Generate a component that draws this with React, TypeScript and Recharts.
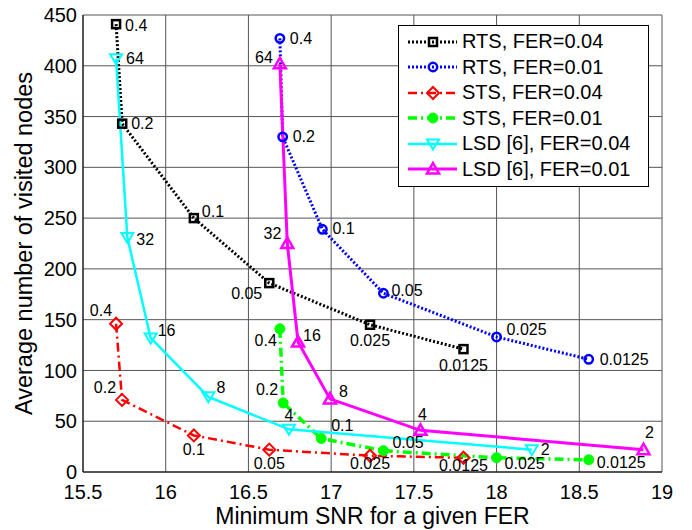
import { LineChart, Line, XAxis, YAxis, CartesianGrid, Legend, LabelList } from "recharts";

const FONT = '"Liberation Sans", Arial, Helvetica, sans-serif';

const xTicks = [15.5, 16, 16.5, 17, 17.5, 18, 18.5, 19];
const yTicks = [0, 50, 100, 150, 200, 250, 300, 350, 400, 450];

// point tags
const ferTags = ["0.4", "0.2", "0.1", "0.05", "0.025", "0.0125"];
const listTags = ["64", "32", "16", "8", "4", "2"];

// RTS
const rts04Snr = [15.7, 15.737, 16.17, 16.626, 17.235, 17.8];
const rts04Nodes = [441, 343, 250, 186, 145, 121];
const rts01Snr = [16.69, 16.707, 16.947, 17.316, 18.0, 18.557];
const rts01Nodes = [427, 330, 239, 176, 133, 111];

// STS
const sts04Snr = [15.7, 15.736, 16.17, 16.626, 17.235, 17.8];
const sts04Nodes = [146, 71, 36, 22, 16, 14];
const sts01Snr = [16.69, 16.71, 16.94, 17.316, 18.0, 18.557];
const sts01Nodes = [141, 68, 33, 21, 14, 12];

// LSD [6]
const lsd04Snr = [15.7, 15.768, 15.909, 16.258, 16.745, 18.213];
const lsd04Nodes = [407, 231, 132, 74, 42, 22];
const lsd01Snr = [16.69, 16.735, 16.8, 16.993, 17.54, 18.888];
const lsd01Nodes = [402, 225, 128, 72, 41, 22];

const zip = (snr: number[], nodes: number[], tags: string[]) =>
  snr.map((s, i) => ({ snr: s, nodes: nodes[i], tag: tags[i] }));

type Anchor = "start" | "middle" | "end";
type Off = [Anchor, number, number];

// where each tag sits relative to its point
const rts04Off: Off[] = [["start", 9, 1], ["start", 9, 0], ["start", 8, -7], ["end", -7, 10], ["middle", 0, 16], ["middle", 0, 16]];
const rts01Off: Off[] = [["start", 10, 0], ["start", 10, 0], ["start", 10, -1], ["start", 8, -3], ["start", 10, -7], ["start", 11, 0]];
const sts04Off: Off[] = [["end", -4, -13], ["end", -6, -12], ["middle", 0, 14], ["middle", 0, 14], ["middle", 0, 8], ["middle", 0, 8]];
const sts01Off: Off[] = [["end", -3, 12], ["end", -5, -13], ["start", 10, -13], ["start", 9, -8], ["start", 8, 6], ["start", 8, 3]];
const lsd04Off: Off[] = [["start", 10, 0], ["start", 9, 2], ["start", 7, -7], ["start", 8, -9], ["middle", 0, -14], ["start", 9, 0]];
const lsd01Off: Off[] = [["end", -7, -6], ["end", -6, -10], ["start", 5, -7], ["start", 9, -7], ["middle", 2, -16], ["middle", 6, -17]];

type Kind = "square" | "circle" | "diamond" | "dot" | "down" | "up";

const series = [
  { id: "rts04", name: "RTS, FER=0.04", data: zip(rts04Snr, rts04Nodes, ferTags), color: "#000000", width: 3, dash: "2 2", kind: "square" as Kind, off: rts04Off },
  { id: "rts01", name: "RTS, FER=0.01", data: zip(rts01Snr, rts01Nodes, ferTags), color: "#0000ff", width: 3, dash: "2 2", kind: "circle" as Kind, off: rts01Off },
  { id: "sts04", name: "STS, FER=0.04", data: zip(sts04Snr, sts04Nodes, ferTags), color: "#ff0000", width: 2.5, dash: "9 4 2 4", kind: "diamond" as Kind, off: sts04Off },
  { id: "sts01", name: "STS, FER=0.01", data: zip(sts01Snr, sts01Nodes, ferTags), color: "#00ff00", width: 3.5, dash: "9 4 2 4", kind: "dot" as Kind, off: sts01Off },
  { id: "lsd04", name: "LSD [6], FER=0.04", data: zip(lsd04Snr, lsd04Nodes, listTags), color: "#00ffff", width: 2.5, dash: undefined, kind: "down" as Kind, off: lsd04Off },
  { id: "lsd01", name: "LSD [6], FER=0.01", data: zip(lsd01Snr, lsd01Nodes, listTags), color: "#ff00ff", width: 3, dash: undefined, kind: "up" as Kind, off: lsd01Off },
];

function Marker({ kind, cx, cy, color }: { kind: Kind; cx: number; cy: number; color: string }) {
  if (cx == null || cy == null) return null;
  switch (kind) {
    case "square":
      return <rect x={cx - 4} y={cy - 4} width={8} height={8} fill="none" stroke={color} strokeWidth={2.5} />;
    case "circle":
      return <circle cx={cx} cy={cy} r={4.2} fill="none" stroke={color} strokeWidth={2.5} />;
    case "diamond":
      return <polygon points={`${cx},${cy - 6} ${cx + 6},${cy} ${cx},${cy + 6} ${cx - 6},${cy}`} fill="none" stroke={color} strokeWidth={2} />;
    case "dot":
      return <circle cx={cx} cy={cy} r={5} fill={color} stroke={color} strokeWidth={1} />;
    case "down":
      return <polygon points={`${cx - 6},${cy - 4.5} ${cx + 6},${cy - 4.5} ${cx},${cy + 5.5}`} fill="none" stroke={color} strokeWidth={2} />;
    case "up":
      return <polygon points={`${cx},${cy - 6} ${cx + 6},${cy + 4.5} ${cx - 6},${cy + 4.5}`} fill="none" stroke={color} strokeWidth={2.5} />;
  }
  return null;
}

const tagContent = (off: Off[]) => (props: any) => {
  const x = props.x ?? props.viewBox?.x;
  const y = props.y ?? props.viewBox?.y;
  const o = off[props.index] || ["start", 8, 0];
  return (
    <text x={x + o[1]} y={y + o[2]} textAnchor={o[0]} dominantBaseline="central" fontSize={16} fontFamily={FONT} fill="#000">
      {props.value}
    </text>
  );
};

function LegendBox() {
  return (
    <div style={{ width: 251, boxSizing: "border-box", border: "1.5px solid #000", background: "#fff", padding: "3px 4px 4px 7px", fontFamily: FONT, fontSize: 20, color: "#000" }}>
      {series.map((s) => (
        <div key={s.id} style={{ display: "flex", alignItems: "center", height: 25.5, whiteSpace: "nowrap" }}>
          <svg width={54} height={20} style={{ flex: "none" }}>
            <line x1={2} x2={51} y1={10} y2={10} stroke={s.color} strokeWidth={s.width} strokeDasharray={s.dash} />
            <Marker kind={s.kind} cx={27} cy={10} color={s.color} />
          </svg>
          <span style={{ marginLeft: 2 }}>{s.name}</span>
        </div>
      ))}
    </div>
  );
}

export default function App() {
  return (
    <div style={{ position: "absolute", left: 0, top: 0, background: "#fff" }}>
      <LineChart width={692} height={530} margin={{ top: 15, right: 30, bottom: 0, left: 0 }}>
        <CartesianGrid stroke="#555" strokeWidth={1} />
        <XAxis
          dataKey="snr"
          type="number"
          domain={[15.5, 19]}
          ticks={xTicks}
          allowDataOverflow
          height={58}
          tickLine={false}
          tickSize={0}
          tickMargin={13}
          stroke="#000"
          tick={{ fontSize: 20, fill: "#000", fontFamily: FONT }}
          label={{ value: "Minimum SNR for a given FER", position: "insideBottom", offset: 6, style: { fontSize: 23, fill: "#000", fontFamily: FONT } }}
        />
        <XAxis xAxisId="top" orientation="top" type="number" domain={[15.5, 19]} ticks={xTicks} height={0} tick={false} tickLine={false} stroke="#000" />
        <YAxis
          type="number"
          domain={[0, 450]}
          ticks={yTicks}
          allowDataOverflow
          width={83}
          tickLine={false}
          tickSize={0}
          tickMargin={6}
          stroke="#000"
          tick={{ fontSize: 20, fill: "#000", fontFamily: FONT }}
          label={{ value: "Average number of visited nodes", angle: -90, position: "insideLeft", offset: 24, style: { textAnchor: "middle", fontSize: 23.5, fill: "#000", fontFamily: FONT } }}
        />
        <YAxis yAxisId="right" orientation="right" type="number" domain={[0, 450]} ticks={yTicks} width={0} tick={false} tickLine={false} stroke="#000" />
        <Legend layout="vertical" align="center" verticalAlign="middle" wrapperStyle={{ left: 398, top: 25, width: 251 }} content={() => <LegendBox />} />
        {series.map((s) => (
          <Line
            key={s.id}
            data={s.data}
            dataKey="nodes"
            name={s.name}
            type="linear"
            stroke={s.color}
            strokeWidth={s.width}
            strokeDasharray={s.dash}
            isAnimationActive={false}
            activeDot={false}
            dot={(p: any) => <Marker key={`${s.id}-${p.index}`} kind={s.kind} cx={p.cx} cy={p.cy} color={s.color} />}
          >
            <LabelList dataKey="tag" content={tagContent(s.off)} />
          </Line>
        ))}
      </LineChart>
    </div>
  );
}
